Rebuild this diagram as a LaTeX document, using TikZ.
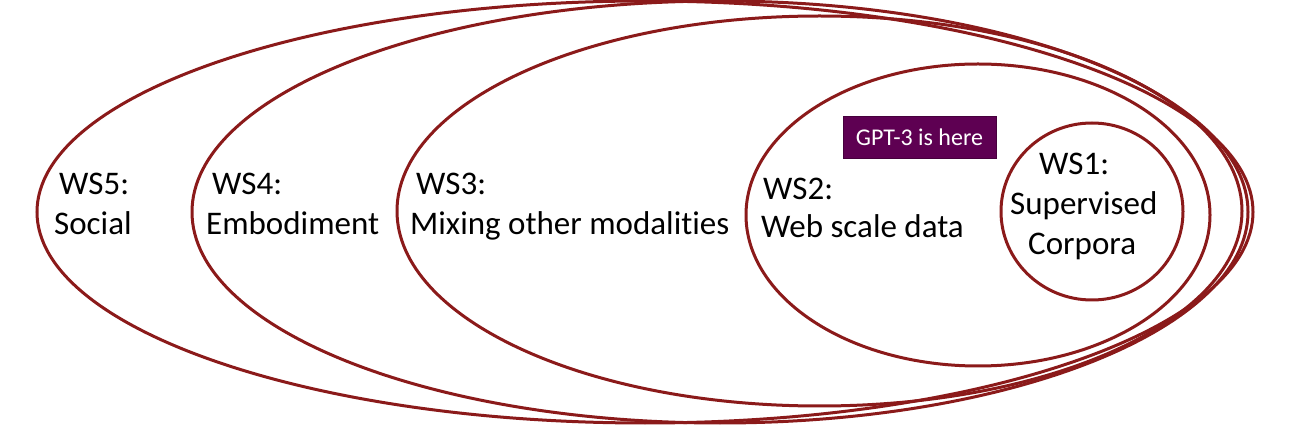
\documentclass[tikz,border=0pt]{standalone}
\usepackage{fontspec}
\setmainfont{Carlito}[Ligatures=NoCommon]
\usetikzlibrary{shapes.geometric}
\definecolor{ringred}{RGB}{139,26,26}
\definecolor{gptpurple}{RGB}{94,0,82}
\definecolor{gptborder}{RGB}{70,0,60}
\begin{document}
\begin{tikzpicture}[x=1pt,y=-1pt,
  ring/.style={draw=ringred,line width=3pt,ellipse,inner sep=0pt,outer sep=0pt},
  lbl/.style={anchor=base west,inner sep=0pt,font=\fontsize{33}{40}\selectfont,text=black},
  gptbox/.style={fill=gptpurple,draw=gptborder,line width=0.6pt,text=white,inner sep=0pt,
    minimum width=153pt,minimum height=42pt,font=\fontsize{24}{28}\selectfont}]
\useasboundingbox (0,0) rectangle (1294,430);
\node[ring,minimum width=1216pt,minimum height=422pt] (ws5) at (645,212) {};
\node[ring,minimum width=1056pt,minimum height=422pt] (ws4) at (720,212) {};
\node[ring,minimum width=845pt,minimum height=390pt] (ws3) at (819.5,211) {};
\node[ring,minimum width=464pt,minimum height=302pt] (ws2) at (978,215) {};
\node[ring,minimum width=182pt,minimum height=177pt] (ws1) at (1092,211.5) {};
\node[gptbox] (gpt) at (919.5,137) {GPT-3 is here};
\node[lbl] (t5a) at (59,195) {WS5:};
\node[lbl] (t5b) at (54,235) {Social};
\node[lbl] (t4a) at (212,195) {WS4:};
\node[lbl] (t4b) at (206,235) {Embodiment};
\node[lbl] (t3a) at (416,195) {WS3:};
\node[lbl] (t3b) at (410,235) {Mixing other modalities};
\node[lbl] (t2a) at (763,200) {WS2:};
\node[lbl] (t2b) at (761,238) {Web scale data};
\node[lbl] (t1a) at (1039,175) {WS1:};
\node[lbl] (t1b) at (1010,215) {Supervised};
\node[lbl] (t1c) at (1028,255) {Corpora};
\end{tikzpicture}
\end{document}
